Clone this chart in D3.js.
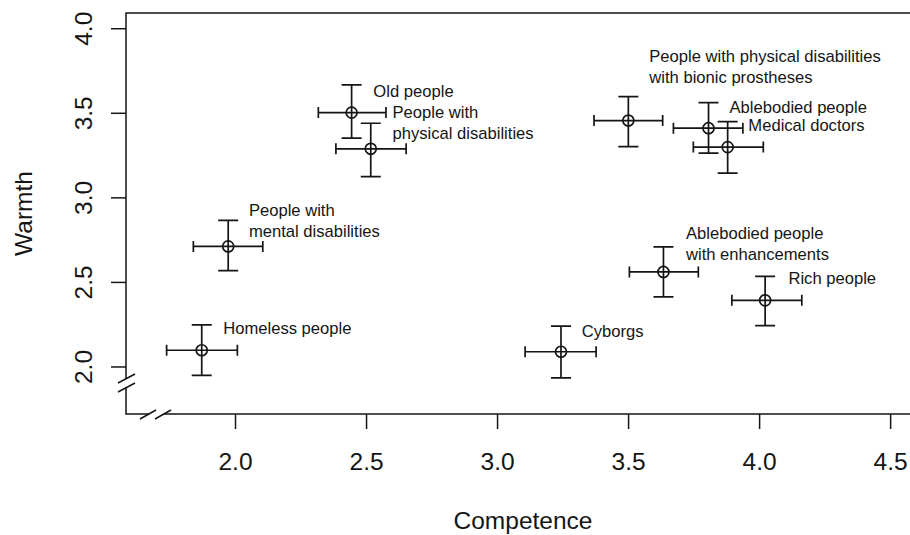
<!DOCTYPE html>
<html>
<head>
<meta charset="utf-8">
<script src="https://cdn.jsdelivr.net/npm/d3@7"></script>
<style>
  body { margin: 0; background: #fff; }
  svg { display: block; font-family: "Liberation Sans", Arial, Helvetica, sans-serif; }
</style>
</head>
<body>
<div id="chart"></div>
<script>
// groups and their mean ratings
const groups = ["Homeless people", "People with mental disabilities", "Old people", "People with physical disabilities",
    "Cyborgs", "People with physical disabilities with bionic prostheses", "Ablebodied people with enhancements",
    "Ablebodied people", "Medical doctors", "Rich people"]
const competence = [1.873, 1.974, 2.445, 2.518, 3.244, 3.501, 3.635, 3.807, 3.880, 4.023]
const warmth = [2.096, 2.710, 3.501, 3.287, 2.087, 3.454, 2.559, 3.409, 3.297, 2.391]

// error bar ends
const competenceLow = [1.739, 1.841, 2.318, 2.385, 3.107, 3.370, 3.505, 3.673, 3.749, 3.896]
const competenceHigh = [2.009, 2.106, 2.576, 2.653, 3.378, 3.632, 3.768, 3.938, 4.016, 4.163]
const warmthLow = [1.947, 2.567, 3.350, 3.123, 1.933, 3.300, 2.411, 3.261, 3.143, 2.242]
const warmthHigh = [2.246, 2.864, 3.665, 3.438, 2.238, 3.596, 2.707, 3.560, 3.448, 2.533]

// text labels (lines + position in data units, like text(x, y, ...))
const labelLines = [["Homeless people"], ["People with", "mental disabilities"], ["Old people"],
    ["People with", "physical disabilities"], ["Cyborgs"],
    ["People with physical disabilities", "with bionic prostheses"], ["Ablebodied people", "with enhancements"],
    ["Ablebodied people"], ["Medical doctors"], ["Rich people"]]
const labelX = [1.955, 2.053, 2.528, 2.601, 3.323, 3.581, 3.721, 3.887, 3.959, 4.112]
const labelY = [2.190, 2.890, 3.596, 3.471, 2.174, 3.801, 2.752, 3.501, 3.393, 2.486]

const xTicks = [2.0, 2.5, 3.0, 3.5, 4.0, 4.5]
const yTicks = [2.0, 2.5, 3.0, 3.5, 4.0]

function drawPlot() {
    const width = 910
    const height = 535
    const margin = { top: 13, bottom: 121, left: 126, right: -10 }
    const ink = "#151515"

    const svg = d3.select("#chart")
        .append("svg")
        .attr("width", width)
        .attr("height", height)

    const x = d3.scaleLinear()
        .domain([1.584, 4.614])
        .range([margin.left, width - margin.right])

    const y = d3.scaleLinear()
        .domain([1.719, 4.090])
        .range([height - margin.bottom, margin.top])

    const x0 = margin.left
    const y0 = height - margin.bottom

    // box (left side and bottom get broken below)
    svg.append("rect")
        .attr("x", x0)
        .attr("y", margin.top)
        .attr("width", width - margin.right - x0)
        .attr("height", y0 - margin.top)
        .attr("fill", "none")
        .attr("stroke", ink)
        .attr("stroke-width", 1.5)

    // axis breaks: white gap + two slashes
    svg.append("rect").attr("x", x0 - 3).attr("y", y0 - 36).attr("width", 6).attr("height", 9).attr("fill", "#fff")
    svg.append("rect").attr("x", x0 + 23).attr("y", y0 - 3).attr("width", 15).attr("height", 6).attr("fill", "#fff")
    const slashes = [
        [x0 - 8, y0 - 31, x0 + 9, y0 - 40],
        [x0 - 8, y0 - 22, x0 + 9, y0 - 31],
        [x0 + 14, y0 + 5, x0 + 30, y0 - 4],
        [x0 + 29, y0 + 5, x0 + 45, y0 - 4]
    ]
    svg.append("g")
        .selectAll("line")
        .data(slashes)
        .join("line")
        .attr("x1", d => d[0]).attr("y1", d => d[1])
        .attr("x2", d => d[2]).attr("y2", d => d[3])
        .attr("stroke", ink)
        .attr("stroke-width", 1.5)

    // axes
    function xAxis(g) {
        g.attr("transform", `translate(0, ${y0})`)
            .call(d3.axisBottom(x).tickValues(xTicks).tickSize(15).tickPadding(12).tickFormat(d3.format(".1f")))
            .attr("font-size", "24.5px")
            .attr("font-family", null)
        g.select(".domain").remove()
        g.selectAll(".tick line").attr("stroke", ink).attr("stroke-width", 1.5)
        g.selectAll(".tick text").attr("fill", ink).attr("dy", null).attr("y", 56)
    }

    function yAxis(g) {
        g.attr("transform", `translate(${x0}, 0)`)
            .call(d3.axisLeft(y).tickValues(yTicks).tickSize(15).tickFormat(d3.format(".1f")))
            .attr("font-size", "24.5px")
            .attr("font-family", null)
        g.select(".domain").remove()
        g.selectAll(".tick line").attr("stroke", ink).attr("stroke-width", 1.5)
        g.selectAll(".tick text")
            .attr("fill", ink)
            .attr("x", null).attr("dy", null)
            .attr("text-anchor", "middle")
            .attr("transform", "translate(-34, 0) rotate(-90)")
    }

    svg.append("g").call(xAxis)
    svg.append("g").call(yAxis)

    // axis titles
    svg.append("text")
        .attr("x", (x0 + width - margin.right) / 2)
        .attr("y", 529)
        .attr("text-anchor", "middle")
        .attr("font-size", "24.5px")
        .attr("fill", ink)
        .text("Competence")

    svg.append("text")
        .attr("transform", `translate(32, ${(margin.top + y0) / 2}) rotate(-90)`)
        .attr("text-anchor", "middle")
        .attr("font-size", "24.5px")
        .attr("fill", ink)
        .text("Warmth")

    const idx = d3.range(groups.length)
    const bars = svg.append("g")
        .attr("stroke", ink)
        .attr("stroke-width", 1.7)
        .attr("fill", "none")

    // horizontal error bars
    bars.selectAll(".hbar")
        .data(idx)
        .join("path")
        .attr("class", "hbar")
        .attr("d", i => {
            const a = x(competenceLow[i]), b = x(competenceHigh[i]), c = y(warmth[i])
            return `M${a},${c - 5.5}V${c + 5.5}M${a},${c}H${b}M${b},${c - 5.5}V${c + 5.5}`
        })

    // vertical error bars
    bars.selectAll(".vbar")
        .data(idx)
        .join("path")
        .attr("class", "vbar")
        .attr("d", i => {
            const a = y(warmthHigh[i]), b = y(warmthLow[i]), c = x(competence[i])
            return `M${c - 10},${a}H${c + 10}M${c},${a}V${b}M${c - 10},${b}H${c + 10}`
        })

    // points
    bars.selectAll("circle")
        .data(idx)
        .join("circle")
        .attr("cx", i => x(competence[i]))
        .attr("cy", i => y(warmth[i]))
        .attr("r", 5.5)

    // labels
    svg.append("g")
        .selectAll("text")
        .data(idx)
        .join("text")
        .attr("x", i => x(labelX[i]))
        .attr("y", i => y(labelY[i]))
        .attr("font-size", "16.6px")
        .attr("fill", ink)
        .each(function(i) {
            d3.select(this)
                .selectAll("tspan")
                .data(labelLines[i])
                .join("tspan")
                .attr("x", x(labelX[i]))
                .attr("dy", (d, k) => k === 0 ? 0 : 21)
                .text(d => d)
        })
}

drawPlot()
</script>
</body>
</html>
